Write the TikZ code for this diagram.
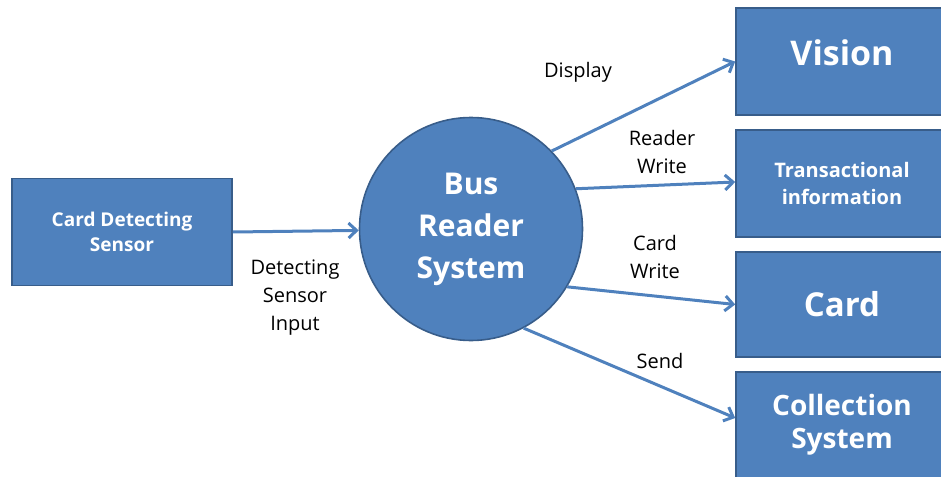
\documentclass[tikz,border=0pt]{standalone}
\usepackage{fontspec}
\setmainfont{Open Sans}
\usetikzlibrary{arrows.meta}
\definecolor{boxblue}{HTML}{4F81BD}
\definecolor{edgeblue}{HTML}{385D8A}
\begin{document}
\begin{tikzpicture}[x = 1pt, y = -1pt,
	block/.style = {draw = edgeblue, line width = 1.6pt, fill = boxblue, text = white, align = center, font = \bfseries, minimum width = 212pt},
	flow/.style = {draw = boxblue, line width = 3pt, -{Straight Barb[length = 8pt, width = 15pt]}},
	tag/.style = {align = center, font = \fontsize{20}{28}\selectfont}]
	\useasboundingbox (0,0) rectangle (941,476);
	\node[block, minimum width = 220pt, minimum height = 107pt, font = \bfseries\fontsize{19}{25}\selectfont] (sensor) at (122,232) {Card Detecting\\Sensor};
	\node[circle, draw = edgeblue, line width = 1.6pt, fill = boxblue, text = white, align = center, minimum size = 223pt, font = \bfseries\fontsize{30}{42}\selectfont] (bus) at (471,229) {Bus\\Reader\\System};
	\node[block, minimum height = 107pt, text depth = 18pt, font = \bfseries\fontsize{34}{36}\selectfont] (vision) at (842,61.5) {Vision};
	\node[block, minimum height = 107pt, font = \bfseries\fontsize{20}{27}\selectfont] (trans) at (842,183.5) {Transactional\\information};
	\node[block, minimum height = 105pt, font = \bfseries\fontsize{33}{36}\selectfont] (card) at (842,304.5) {Card};
	\node[block, minimum height = 106pt, font = \bfseries\fontsize{28}{33}\selectfont] (collect) at (842,425) {Collection\\System};
	% labels
	\node[tag] (display) at (578,72) {Display};
	\node[tag] (readerwrite) at (662,152) {Reader\\Write};
	\node[tag] (cardwrite) at (655,257) {Card\\Write};
	\node[tag] (send) at (660,361) {Send};
	\node[tag] (input) at (295,298) {Detecting\\Sensor\\Input};
	% connectors
	\draw[flow] (sensor.east) -- (bus);
	\draw[flow] (bus.44) -- (vision.west);
	\draw[flow] (bus.21) -- ([yshift = 1.5pt]trans.west);
	\draw[flow] (bus.-31) -- (card.west);
	\draw[flow] (bus.-62) -- ([yshift = 7pt]collect.west);
\end{tikzpicture}
\end{document}
